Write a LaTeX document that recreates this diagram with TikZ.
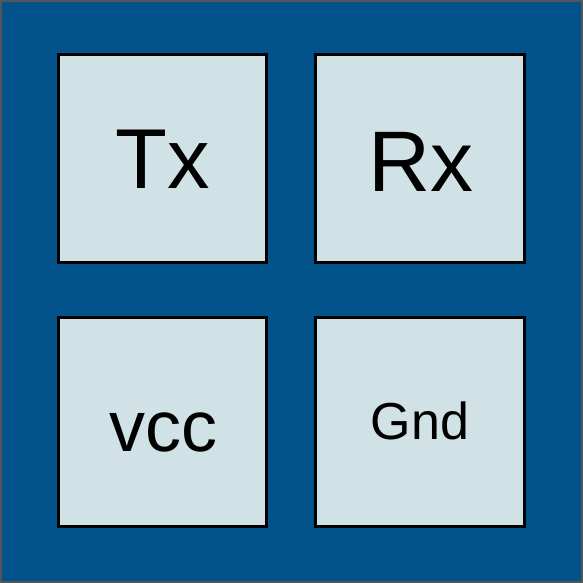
\documentclass[tikz,border=0pt]{standalone}
\usepackage{fontspec}
\setmainfont{Liberation Sans}
\definecolor{outerblue}{RGB}{2,82,140}
\definecolor{boxfill}{RGB}{209,226,230}
\definecolor{rimgray}{RGB}{85,85,85}
\tikzset{
  pad/.style={draw=black, line width=3pt, fill=boxfill},
  lbl/.style={anchor=base, inner sep=0pt, text=black}
}
\begin{document}
\begin{tikzpicture}[x=1pt,y=1pt]
\useasboundingbox (0,0) rectangle (583,583);
\draw[draw=rimgray, line width=2pt, fill=outerblue] (1,1) rectangle (582,582);
% pads (y measured from top: y = 583 - ypix)
\draw[pad] (58.5,583-54.5) rectangle (266.5,583-262.5);
\draw[pad] (315.5,583-54.5) rectangle (524.5,583-262.5);
\draw[pad] (58.5,583-317.5) rectangle (266.5,583-526.5);
\draw[pad] (315.5,583-317.5) rectangle (524.5,583-526.5);
\node[lbl, font=\fontsize{85}{85}\selectfont] (tx) at (163,583-189) {Tx};
\node[lbl, font=\fontsize{86}{86}\selectfont] (rx) at (421,583-192) {Rx};
\node[lbl, font=\fontsize{72}{72}\selectfont] (vcc) at (163,583-452) {vcc};
\node[lbl, font=\fontsize{52}{52}\selectfont] (gnd) at (420,583-440) {Gnd};
\end{tikzpicture}
\end{document}
